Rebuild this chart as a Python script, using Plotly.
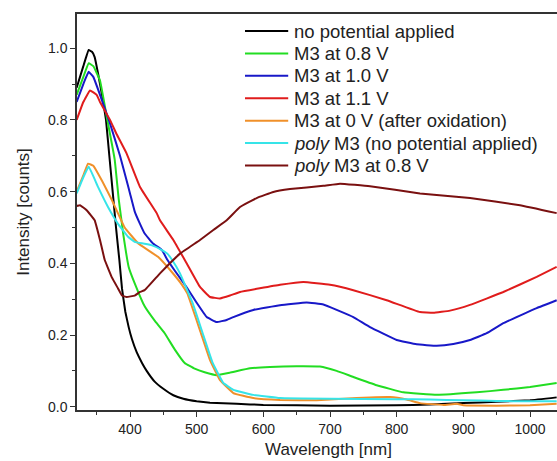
import plotly.graph_objects as go

# Absorption spectra, wavelength in nm, intensity in counts (normalised)
wl_black = [320, 330, 338, 343, 347, 352, 358, 364, 369, 374, 379, 384, 388, 393, 398, 403, 410, 418, 425, 437, 450, 465, 480, 500, 520, 560, 600, 700, 800, 850, 900, 950, 1000, 1040]
int_black = [0.89, 0.95, 0.995, 0.99, 0.975, 0.93, 0.87, 0.80, 0.70, 0.60, 0.50, 0.41, 0.33, 0.265, 0.222, 0.188, 0.152, 0.122, 0.10, 0.07, 0.05, 0.032, 0.022, 0.015, 0.011, 0.008, 0.005, 0.003, 0.004, 0.006, 0.010, 0.014, 0.018, 0.026]

wl_green = [320, 330, 338, 345, 355, 366, 377, 383, 390, 398, 408, 422, 437, 452, 467, 482, 497, 512, 530, 550, 580, 610, 650, 685, 710, 735, 770, 810, 860, 920, 960, 1000, 1040]
int_green = [0.87, 0.92, 0.958, 0.95, 0.91, 0.80, 0.69, 0.58, 0.48, 0.39, 0.34, 0.28, 0.24, 0.205, 0.16, 0.122, 0.106, 0.096, 0.088, 0.095, 0.107, 0.111, 0.113, 0.112, 0.100, 0.083, 0.060, 0.040, 0.033, 0.040, 0.047, 0.055, 0.066]

wl_blue = [320, 330, 338, 345, 355, 370, 385, 395, 400, 407, 415, 422, 434, 448, 456, 467, 485, 500, 515, 530, 545, 555, 585, 625, 665, 690, 710, 735, 760, 800, 830, 860, 885, 910, 935, 960, 1010, 1040]
int_blue = [0.85, 0.90, 0.934, 0.92, 0.87, 0.79, 0.70, 0.63, 0.595, 0.545, 0.51, 0.483, 0.456, 0.437, 0.41, 0.38, 0.333, 0.29, 0.25, 0.236, 0.242, 0.25, 0.27, 0.283, 0.291, 0.285, 0.27, 0.25, 0.222, 0.186, 0.174, 0.17, 0.175, 0.186, 0.205, 0.233, 0.275, 0.297]

wl_red = [320, 330, 340, 350, 355, 370, 380, 395, 415, 440, 445, 465, 485, 505, 520, 535, 550, 565, 625, 660, 700, 735, 785, 835, 855, 880, 910, 960, 1010, 1040]
int_red = [0.80, 0.85, 0.882, 0.87, 0.85, 0.80, 0.76, 0.706, 0.613, 0.54, 0.52, 0.465, 0.40, 0.334, 0.306, 0.302, 0.31, 0.32, 0.34, 0.348, 0.34, 0.325, 0.297, 0.264, 0.262, 0.268, 0.284, 0.32, 0.362, 0.39]

wl_orange = [320, 330, 337, 345, 358, 373, 392, 412, 442, 463, 478, 486, 505, 520, 535, 555, 585, 625, 680, 720, 760, 790, 815, 835, 870, 890, 900, 950, 1000, 1040]
int_orange = [0.60, 0.645, 0.678, 0.672, 0.63, 0.576, 0.50, 0.456, 0.418, 0.375, 0.34, 0.316, 0.213, 0.13, 0.074, 0.038, 0.024, 0.019, 0.018, 0.022, 0.026, 0.027, 0.020, 0.010, 0.005, 0.008, 0.004, 0.003, 0.004, 0.008]

wl_cyan = [320, 330, 338, 352, 367, 382, 397, 407, 420, 433, 448, 456, 463, 475, 494, 509, 524, 540, 555, 585, 625, 700, 800, 850, 900, 950, 1000, 1040]
int_cyan = [0.595, 0.64, 0.67, 0.613, 0.557, 0.51, 0.474, 0.46, 0.455, 0.45, 0.437, 0.427, 0.41, 0.372, 0.289, 0.205, 0.122, 0.066, 0.047, 0.033, 0.024, 0.022, 0.021, 0.020, 0.018, 0.016, 0.015, 0.015]

wl_maroon = [320, 325, 335, 347, 355, 362, 373, 382, 388, 395, 407, 415, 422, 445, 475, 505, 525, 545, 565, 590, 615, 640, 690, 715, 760, 835, 910, 985, 1040]
int_maroon = [0.56, 0.562, 0.548, 0.52, 0.465, 0.41, 0.36, 0.33, 0.31, 0.306, 0.31, 0.32, 0.325, 0.372, 0.427, 0.465, 0.493, 0.52, 0.557, 0.582, 0.599, 0.607, 0.616, 0.622, 0.615, 0.595, 0.582, 0.562, 0.54]

series = [
    ("no potential applied", wl_black, int_black, "#000000"),
    ("M3 at 0.8 V", wl_green, int_green, "#22dd22"),
    ("M3 at 1.0 V", wl_blue, int_blue, "#1818c8"),
    ("M3 at 1.1 V", wl_red, int_red, "#e01c1c"),
    ("M3 at 0 V (after oxidation)", wl_orange, int_orange, "#f0902a"),
    ("<i>poly</i> M3 (no potential applied)", wl_cyan, int_cyan, "#36e4e8"),
    ("<i>poly</i> M3 at 0.8 V", wl_maroon, int_maroon, "#7a1010"),
]

FONT = "Arial, Liberation Sans, sans-serif"
TEXT = "#222222"
AXIS = "#333333"

fig = go.Figure()
for name, x, y, color in series:
    fig.add_trace(go.Scatter(
        x=x, y=y, name=name, mode="lines", showlegend=False,
        line=dict(color=color, width=2, shape="spline", smoothing=0.25),
    ))

# Key in the upper right: short line sample followed by the series name
key_x0, key_x1, key_text_x = 0.350, 0.440, 0.447
key_top, key_step = 0.957, 0.0566
shapes, annotations = [], []
for i, (name, _, _, color) in enumerate(series):
    ky = key_top - i * key_step
    shapes.append(dict(type="line", xref="paper", yref="paper",
                       x0=key_x0, x1=key_x1, y0=ky, y1=ky,
                       line=dict(color=color, width=2)))
    annotations.append(dict(text=name, xref="paper", yref="paper",
                            x=key_text_x, y=ky, xanchor="left", yanchor="middle",
                            showarrow=False,
                            font=dict(size=18.5, family=FONT, color=TEXT)))

annotations.append(dict(
    text="Wavelength [nm]", xref="paper", yref="paper",
    x=0.523, y=-0.1, xanchor="center", yanchor="middle",
    showarrow=False, font=dict(size=17, family=FONT, color=TEXT),
))

fig.update_layout(
    width=557, height=461,
    margin=dict(l=77, r=0, t=14, b=51),
    paper_bgcolor="white", plot_bgcolor="white",
    font=dict(family=FONT, color=TEXT),
    showlegend=False,
    shapes=shapes,
    annotations=annotations,
)

fig.update_xaxes(
    range=[320.5, 1040.5], showgrid=False, zeroline=False,
    showline=True, linecolor=AXIS, linewidth=1.5, mirror=True,
    ticks="outside", ticklen=5, tickwidth=1.2, tickcolor=AXIS,
    tick0=400, dtick=100,
    minor=dict(ticks="outside", ticklen=3, tickwidth=1.2, tickcolor=AXIS, dtick=50, tick0=350, showgrid=False),
    tickfont=dict(size=14, family=FONT, color=TEXT),
)
fig.update_yaxes(
    range=[-0.0092, 1.0954], showgrid=False, zeroline=False,
    showline=True, linecolor=AXIS, linewidth=1.5,
    ticks="outside", ticklen=5, tickwidth=1.2, tickcolor=AXIS,
    tick0=0, dtick=0.2, tickformat=".1f",
    minor=dict(ticks="outside", ticklen=3, tickwidth=1.2, tickcolor=AXIS, dtick=0.1, showgrid=False),
    tickfont=dict(size=14, family=FONT, color=TEXT),
    title=dict(text="Intensity [counts]", font=dict(size=17, family=FONT, color=TEXT), standoff=14),
    automargin=False,
)

fig.write_html("out.html")
